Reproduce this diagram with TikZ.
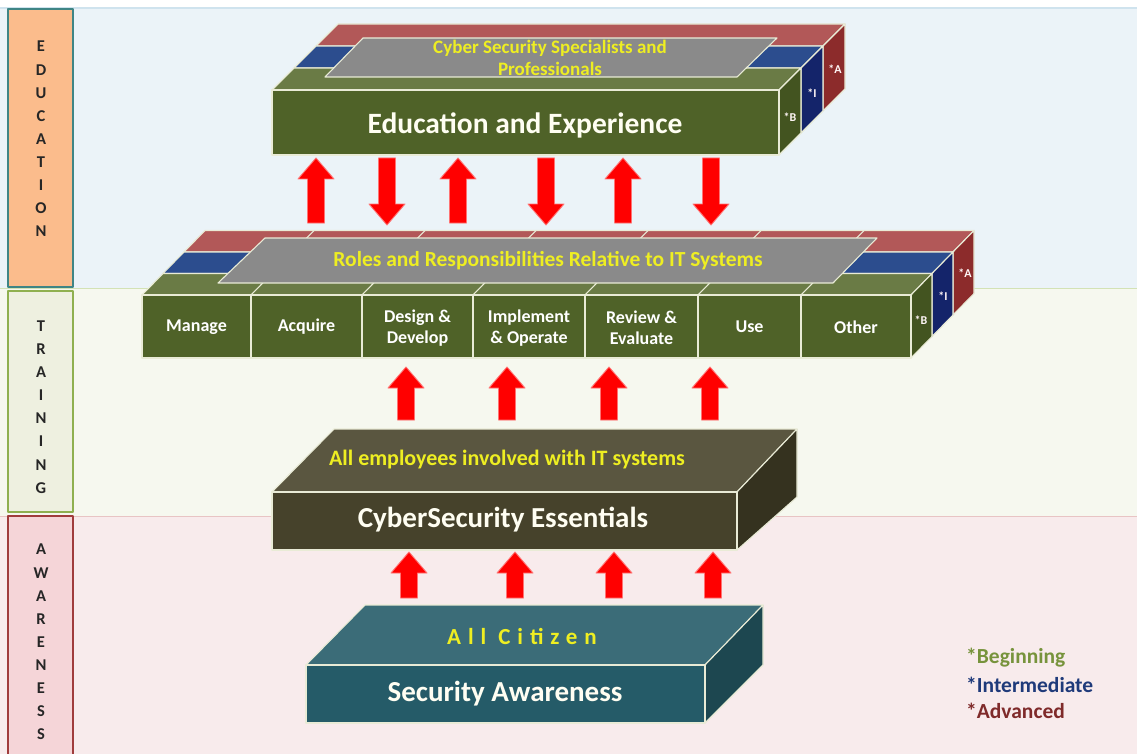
\documentclass[tikz,border=0pt]{standalone}
\usepackage{fontspec}
\setmainfont{Carlito}
\definecolor{bandA}{HTML}{EBF3F8}
\definecolor{bandB}{HTML}{F6F8EF}
\definecolor{bandC}{HTML}{F8EBEC}
\definecolor{lineA}{HTML}{CFE3EE}
\definecolor{lineB}{HTML}{D3E2B5}
\definecolor{lineC}{HTML}{E8C4C4}
\definecolor{eduFill}{HTML}{FBBC8C}
\definecolor{eduEdge}{HTML}{3F8585}
\definecolor{trnFill}{HTML}{EEF0E0}
\definecolor{trnEdge}{HTML}{8FB050}
\definecolor{awrFill}{HTML}{F5D5D8}
\definecolor{awrEdge}{HTML}{A03C3C}
\definecolor{olFront}{HTML}{4F6228}
\definecolor{olTop}{HTML}{6A7B45}
\definecolor{olSide}{HTML}{435420}
\definecolor{blTop}{HTML}{2C4D8E}
\definecolor{blSide}{HTML}{14246A}
\definecolor{rdTop}{HTML}{B25858}
\definecolor{rdSide}{HTML}{8C2B2B}
\definecolor{plate}{HTML}{8A8A8A}
\definecolor{edgeCol}{HTML}{E9EBD6}
\definecolor{esFront}{HTML}{46422B}
\definecolor{esTop}{HTML}{5A5640}
\definecolor{esSide}{HTML}{35321F}
\definecolor{awFront}{HTML}{255B68}
\definecolor{awTop}{HTML}{3B6C78}
\definecolor{awSide}{HTML}{1D4750}
\definecolor{yel}{HTML}{EEEE22}
\definecolor{lgGreen}{HTML}{77933C}
\definecolor{lgBlue}{HTML}{1F3A7A}
\definecolor{lgRed}{HTML}{7F2A2A}
\newcommand\fsz[2]{\fontsize{#1}{#2}\selectfont}
% block arrows: x, tip y, tail y  /  x, tail y, tip y
\newcommand\arrowUp[3]{%
  \filldraw[blockarrow] (#1,#2) -- ({#1+18},{#2+21}) -- ({#1+8.5},{#2+21})
    -- ({#1+8.5},#3) -- ({#1-8.5},#3) -- ({#1-8.5},{#2+21}) -- ({#1-18},{#2+21}) -- cycle;}
\newcommand\arrowDown[3]{%
  \filldraw[blockarrow] (#1,#3) -- ({#1+18},{#3-21}) -- ({#1+8.5},{#3-21})
    -- ({#1+8.5},#2) -- ({#1-8.5},#2) -- ({#1-8.5},{#3-21}) -- ({#1-18},{#3-21}) -- cycle;}
\begin{document}
\begin{tikzpicture}[x=1pt,y=-1pt,line join=round,
  face/.style={draw=edgeCol,line width=1.1pt},
  blockarrow/.style={fill=red,draw=red!55!white,line width=0.9pt},
  sidelab/.style={align=center,inner sep=0pt,text=black!85,font=\fsz{16.5}{23.1}\bfseries},
  cell/.style={align=center,inner sep=0pt,text=white,font=\fsz{18}{21}\bfseries},
  tag/.style={inner sep=0pt,text=white!85!pink,font=\fsz{12}{12}\bfseries},
  big/.style={inner sep=0pt,text=white!95!yellow,font=\bfseries},
  note/.style={inner sep=0pt,text=yel,font=\bfseries},
  legend/.style={anchor=west,inner sep=0pt,font=\fsz{21.5}{21.5}\bfseries}]
\useasboundingbox (0,0) rectangle (1137,754);

% bands
\fill[white] (0,0) rectangle (1137,754);
\fill[bandA] (0,8) rectangle (1137,288);
\fill[bandB] (0,289) rectangle (1137,516);
\fill[bandC] (0,517) rectangle (1137,754);
\draw[lineA,line width=2pt] (0,8) -- (1137,8);
\draw[lineB,line width=1.5pt] (0,288.5) -- (1137,288.5);
\draw[lineC,line width=1.5pt] (0,516.5) -- (1137,516.5);

% level labels
\draw[fill=eduFill,draw=eduEdge,line width=2pt] (8,9) rectangle (73,287);
\draw[fill=trnFill,draw=trnEdge,line width=2pt] (8,291) rectangle (73,512);
\draw[fill=awrFill,draw=awrEdge,line width=2pt] (8,516) rectangle (73,758);
\node[sidelab] (edu) at (41,139) {E\\D\\U\\C\\A\\T\\I\\O\\N};
\node[sidelab] (trn) at (41,407) {T\\R\\A\\I\\N\\I\\N\\G};
\node[sidelab] (awr) at (41,642) {A\\W\\A\\R\\E\\N\\E\\S\\S};

% ---------- Education and Experience block ----------
\filldraw[face,fill=rdTop] (316,46) -- (338,24) -- (845,24) -- (823,46) -- cycle;
\filldraw[face,fill=rdSide] (823,46) -- (845,24) -- (845,89) -- (823,111) -- cycle;
\filldraw[face,fill=blTop] (294,68) -- (316,46) -- (823,46) -- (801,68) -- cycle;
\filldraw[face,fill=blSide] (801,68) -- (823,46) -- (823,111) -- (801,133) -- cycle;
\filldraw[face,fill=olTop] (272,90) -- (294,68) -- (801,68) -- (779,90) -- cycle;
\filldraw[face,fill=olSide] (779,90) -- (801,68) -- (801,133) -- (779,155) -- cycle;
\filldraw[face,fill=olFront] (272,90) rectangle (779,155);
\filldraw[face,fill=plate] (325,77) -- (363,38) -- (777,38) -- (737,77) -- cycle;
\node[note,align=center,font=\fsz{19}{22.5}\bfseries] (spec) at (550,58)
  {Cyber Security Specialists and\\Professionals};
\node[big,font=\fsz{29.5}{30}\bfseries] (eduexp) at (525,125) {Education and Experience};
\node[tag] (tB1) at (790,117) {*B};
\node[tag] (tI1) at (812,93) {*I};
\node[tag] (tA1) at (835,69) {*A};

% ---------- arrows between education and roles ----------
\arrowUp{316}{158}{223}
\arrowDown{387}{158}{225}
\arrowUp{458}{158}{223}
\arrowDown{546}{158}{225}
\arrowUp{623}{158}{223}
\arrowDown{711}{158}{225}

% ---------- Roles block ----------
\filldraw[face,fill=rdTop] (184,252) -- (205,230.5) -- (974,230.5) -- (953,252) -- cycle;
\filldraw[face,fill=rdSide] (953,252) -- (974,230.5) -- (974,293.5) -- (953,315) -- cycle;
\filldraw[face,fill=blTop] (163,273.5) -- (184,252) -- (953,252) -- (932,273.5) -- cycle;
\filldraw[face,fill=blSide] (932,273.5) -- (953,252) -- (953,315) -- (932,336.5) -- cycle;
\filldraw[face,fill=olTop] (142,295) -- (163,273.5) -- (932,273.5) -- (911,295) -- cycle;
\filldraw[face,fill=olSide] (911,295) -- (932,273.5) -- (932,336.5) -- (911,358) -- cycle;
\foreach \d in {251,362,473,585,698,801}{
  \draw[edgeCol,line width=1.1pt] (\d,295) -- ({\d+21},273.5) -- ({\d+42},252) -- ({\d+63},230.5);
}
\foreach \a/\b in {142/251,251/362,362/473,473/585,585/698,698/801,801/911}{
  \filldraw[face,fill=olFront] (\a,295) rectangle (\b,358);
}
\filldraw[face,fill=plate] (218,283) -- (265,238) -- (877,238) -- (833,283) -- cycle;
\node[note,font=\fsz{21.5}{21.5}\bfseries] (roles) at (548,261)
  {Roles and Responsibilities Relative to IT Systems};
\node[cell] (manage) at (196.5,327) {Manage};
\node[cell] (acquire) at (306.5,327) {Acquire};
\node[cell] (design) at (417.5,328) {Design \&\\Develop};
\node[cell] (implement) at (529,328) {Implement\\\& Operate};
\node[cell] (review) at (641.5,328) {Review \&\\Evaluate};
\node[cell] (use) at (749.5,327) {Use};
\node[cell] (other) at (856,327) {Other};
\node[tag] (tB2) at (921,320) {*B};
\node[tag] (tI2) at (943,296) {*I};
\node[tag] (tA2) at (965,273) {*A};

% ---------- arrows between roles and essentials ----------
\arrowUp{406}{367}{420}
\arrowUp{507}{367}{420}
\arrowUp{609}{367}{420}
\arrowUp{710}{367}{420}

% ---------- CyberSecurity Essentials block ----------
\filldraw[face,fill=esTop] (272,492) -- (334,429) -- (797,429) -- (737,492) -- cycle;
\filldraw[face,fill=esSide] (737,492) -- (797,429) -- (797,497) -- (737,550) -- cycle;
\filldraw[face,fill=esFront] (272,492) rectangle (737,550);
\node[note,font=\fsz{22}{22}\bfseries] (employees) at (507,460)
  {All employees involved with IT systems};
\node[big,font=\fsz{29}{29}\bfseries] (essentials) at (503,520) {CyberSecurity Essentials};

% ---------- arrows between essentials and awareness ----------
\arrowUp{409}{552}{598}
\arrowUp{515}{552}{598}
\arrowUp{614}{552}{598}
\arrowUp{713}{552}{598}

% ---------- Security Awareness block ----------
\filldraw[face,fill=awTop] (306,665) -- (365,605) -- (763,605) -- (705,665) -- cycle;
\filldraw[face,fill=awSide] (705,665) -- (763,605) -- (763,665) -- (705,723) -- cycle;
\filldraw[face,fill=awFront] (306,665) rectangle (705,723);
\node[note,font=\fsz{23}{23}\bfseries\addfontfeature{LetterSpace=30}] (citizen) at (522,636) {All Citizen};
\node[big,font=\fsz{29}{29}\bfseries] (secaw) at (505,694) {Security Awareness};

% ---------- legend ----------
\node[legend,text=lgGreen] (lgB) at (966,658) {*Beginning};
\node[legend,text=lgBlue] (lgI) at (966,685) {*Intermediate};
\node[legend,text=lgRed] (lgA) at (966,711) {*Advanced};
\end{tikzpicture}
\end{document}
